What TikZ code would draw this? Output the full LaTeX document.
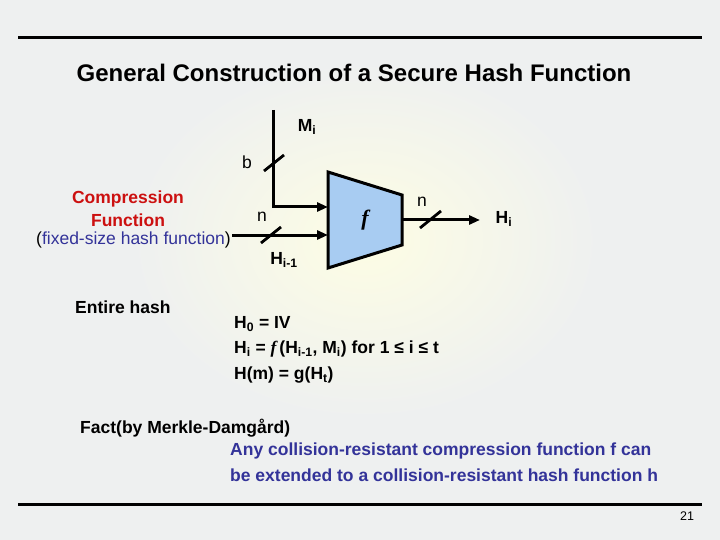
\documentclass[tikz,border=0pt]{standalone}
\usepackage{fontspec}
\setmainfont{Liberation Sans}
\newfontfamily\serifit{Liberation Serif}
\usetikzlibrary{arrows.meta}
\definecolor{bg}{HTML}{EEF0F0}
\definecolor{ylw}{HTML}{FDFDE4}
\definecolor{redc}{HTML}{CC1010}
\definecolor{bluec}{HTML}{333399}
\definecolor{boxblue}{HTML}{A8CCF2}
\tikzset{
  txt/.style={font=\bfseries\fontsize{17.5}{20}\selectfont, inner sep=0pt},
  wire/.style={line width=3pt},
  arr/.style={wire, -{Triangle[length=11pt,width=9pt]}},
  slash/.style={line width=2.8pt}
}
\begin{document}
\begin{tikzpicture}[x=1pt,y=-1pt]
\useasboundingbox (0,0) rectangle (720,540);
\fill[bg] (0,0) rectangle (720,540);
\shade[inner color=ylw, outer color=bg] (130,60) rectangle (600,420);
\draw[line width=3pt] (18,38) -- (702,38);
\draw[line width=3pt] (18,504) -- (702,504);
\node[txt, font=\bfseries\fontsize{24}{27}\selectfont] (title) at (354,73) {General Construction of a Secure Hash Function};
% diagram
\coordinate (mtop) at (273,110);
\coordinate (corner) at (273,207);
\coordinate (hin) at (232,235);
\draw[fill=boxblue, line width=3pt] (328,172) -- (402,195) -- (402,245) -- (328,268) -- cycle;
\node[inner sep=0pt] (f) at (365,220) {\serifit\bfseries\itshape\fontsize{22}{24}\selectfont f};
\coordinate (fin1) at (328,207);
\coordinate (fin2) at (328,235);
\coordinate (fout) at (402,220);
\coordinate (hout) at (480,220);
\draw[arr] (mtop) -- (corner) -- (fin1);
\draw[arr] (hin) -- (fin2);
\draw[arr] (fout) -- (hout);
\draw[slash] (264,171) -- (284,155);
\draw[slash] (261,243) -- (281,227);
\draw[slash] (420,228) -- (441,211);
\node[txt] (mi) at (307,127) {M\textsubscript{i}};
\node[txt, font=\fontsize{17.5}{20}\selectfont] (b) at (247,162) {b};
\node[txt, font=\fontsize{17.5}{20}\selectfont] (n1) at (262,217) {n};
\node[txt] (him1) at (284,260) {H\textsubscript{i-1}};
\node[txt, font=\fontsize{17.5}{20}\selectfont] (n2) at (422,202) {n};
\node[txt] (hi) at (504,219) {H\textsubscript{i}};
% left labels
\node[txt, text=redc] (c1) at (128,199) {Compression};
\node[txt, text=redc] (c2) at (128,220) {Function};
\node[txt, font=\fontsize{17.5}{20}\selectfont, anchor=west] (fx) at (36,240) {(\textcolor{bluec}{fixed-size hash function})};
\node[txt, anchor=west] (eh) at (75,307) {Entire hash};
% formulas
\node[txt, anchor=west] (e1) at (234,324) {H\textsubscript{0} = IV};
\node[txt, anchor=west] (e2) at (234,349) {H\textsubscript{i} = {\serifit\bfseries\itshape f\,}(H\textsubscript{i-1}, M\textsubscript{i}) for 1 ≤ i ≤ t};
\node[txt, anchor=west] (e3) at (234,375) {H(m) = g(H\textsubscript{t})};
\node[txt, anchor=west] (fact) at (80,428) {Fact(by Merkle-Damgård)};
\node[txt, anchor=west, text=bluec] (l1) at (230,451) {Any collision-resistant compression function f can};
\node[txt, anchor=west, text=bluec] (l2) at (230,475) {be extended to a collision-resistant hash function h};
\node[inner sep=0pt, font=\fontsize{12.5}{14}\selectfont] (pg) at (687,516) {21};
\end{tikzpicture}
\end{document}
